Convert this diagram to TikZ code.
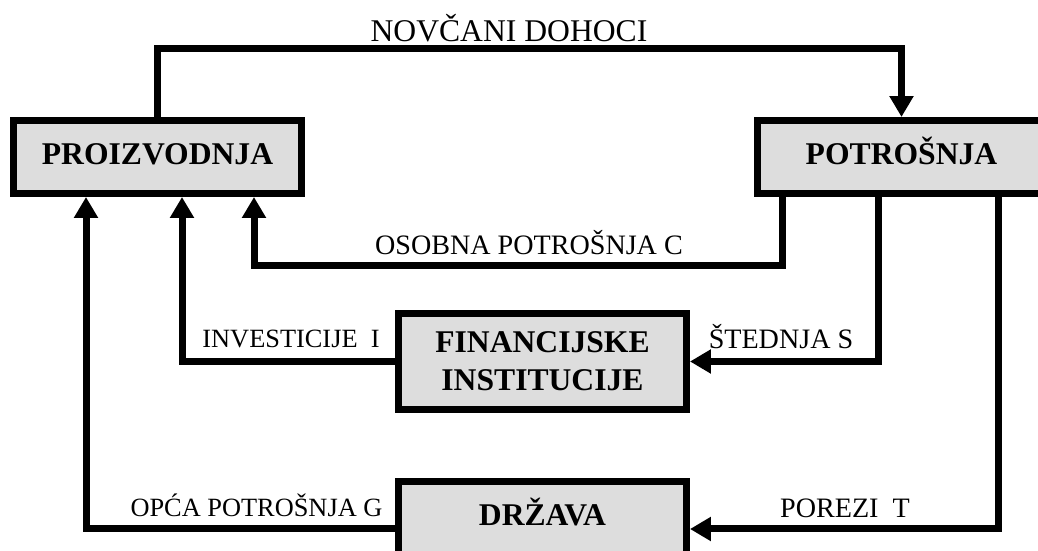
\documentclass[tikz,border=0pt]{standalone}
\usepackage{fontspec}
\setmainfont{Liberation Serif}
\usetikzlibrary{arrows.meta}
\usetikzlibrary{calc}
\usepackage{xcolor}
\definecolor{boxgray}{RGB}{221,221,221}

\begin{document}
\begin{tikzpicture}[x=0.02cm, y=0.02cm]
        % ================= 样式定义 =================
        \tikzset{
            % 部门方框:灰底粗黑边
            box/.style={draw=black, line width=0.14cm, fill=boxgray, minimum width=5.76cm, minimum height=1.46cm, inner sep=0pt, align=center, font=\bfseries\fontsize{18}{21.6}\selectfont},
            % 单行方框:固定文字高度, 使带符号的字母不下移
            onebox/.style={box, text height=13pt, text depth=5pt},
            % 资金流:粗黑线加实心三角箭头
            flow/.style={line width=0.14cm, black, -{Triangle[length=0.42cm, width=0.46cm]}},
            % 流向标注
            lbl/.style={inner sep=0pt, anchor=base, font=\fontsize{16}{19}\selectfont},
            slbl/.style={lbl, font=\fontsize{15}{18}\selectfont}
        }

        % 画布范围 (方框越出边缘的部分被裁掉)
        \useasboundingbox (0,0) rectangle (1038,551);
        \clip (0,0) rectangle (1038,551);

        % ================= 四个部门 =================
        \node[onebox] (proiz) at (157.5,394) {PROIZVODNJA};
        \node[onebox] (potr) at (901.5,394) {POTROŠNJA};
        \node[box, minimum height=1.92cm] (fin) at (542.5,189.5) {FINANCIJSKE\\INSTITUCIJE};
        \node[onebox] (drz) at (542.5,33) {DRŽAVA};

        % ================= 资金流 =================
        % 生产 -> 消费
        \draw[flow] (proiz.north) |- (potr.north |- 0,502) -- (potr.north);
        % 个人消费
        \draw[flow] (potr.south -| 782,0) |- (254,285) -- (proiz.south -| 254,0);
        % 储蓄与投资
        \draw[flow] (potr.south -| 878,0) |- (fin.east);
        \draw[flow] (fin.west) -| (proiz.south -| 182,0);
        % 税收与政府支出
        \draw[flow] (potr.south -| 998,0) |- ($(drz.east)+(0,-11)$);
        \draw[flow] ($(drz.west)+(0,-11)$) -| (proiz.south -| 86,0);

        % ================= 标注 =================
        \node[lbl, font=\fontsize{18}{21.6}\selectfont] (lDoh) at (509,509) {NOVČANI DOHOCI};
        \node[lbl] (lOsob) at (529,296) {OSOBNA POTROŠNJA C};
        \node[slbl] (lInv) at (291,203) {INVESTICIJE~~I};
        \node[lbl] (lSted) at (781,202) {ŠTEDNJA S};
        \node[slbl] (lOpca) at (256.5,34) {OPĆA POTROŠNJA G};
        \node[lbl] (lPor) at (845,33) {POREZI~~T};

    \end{tikzpicture}
\end{document}
